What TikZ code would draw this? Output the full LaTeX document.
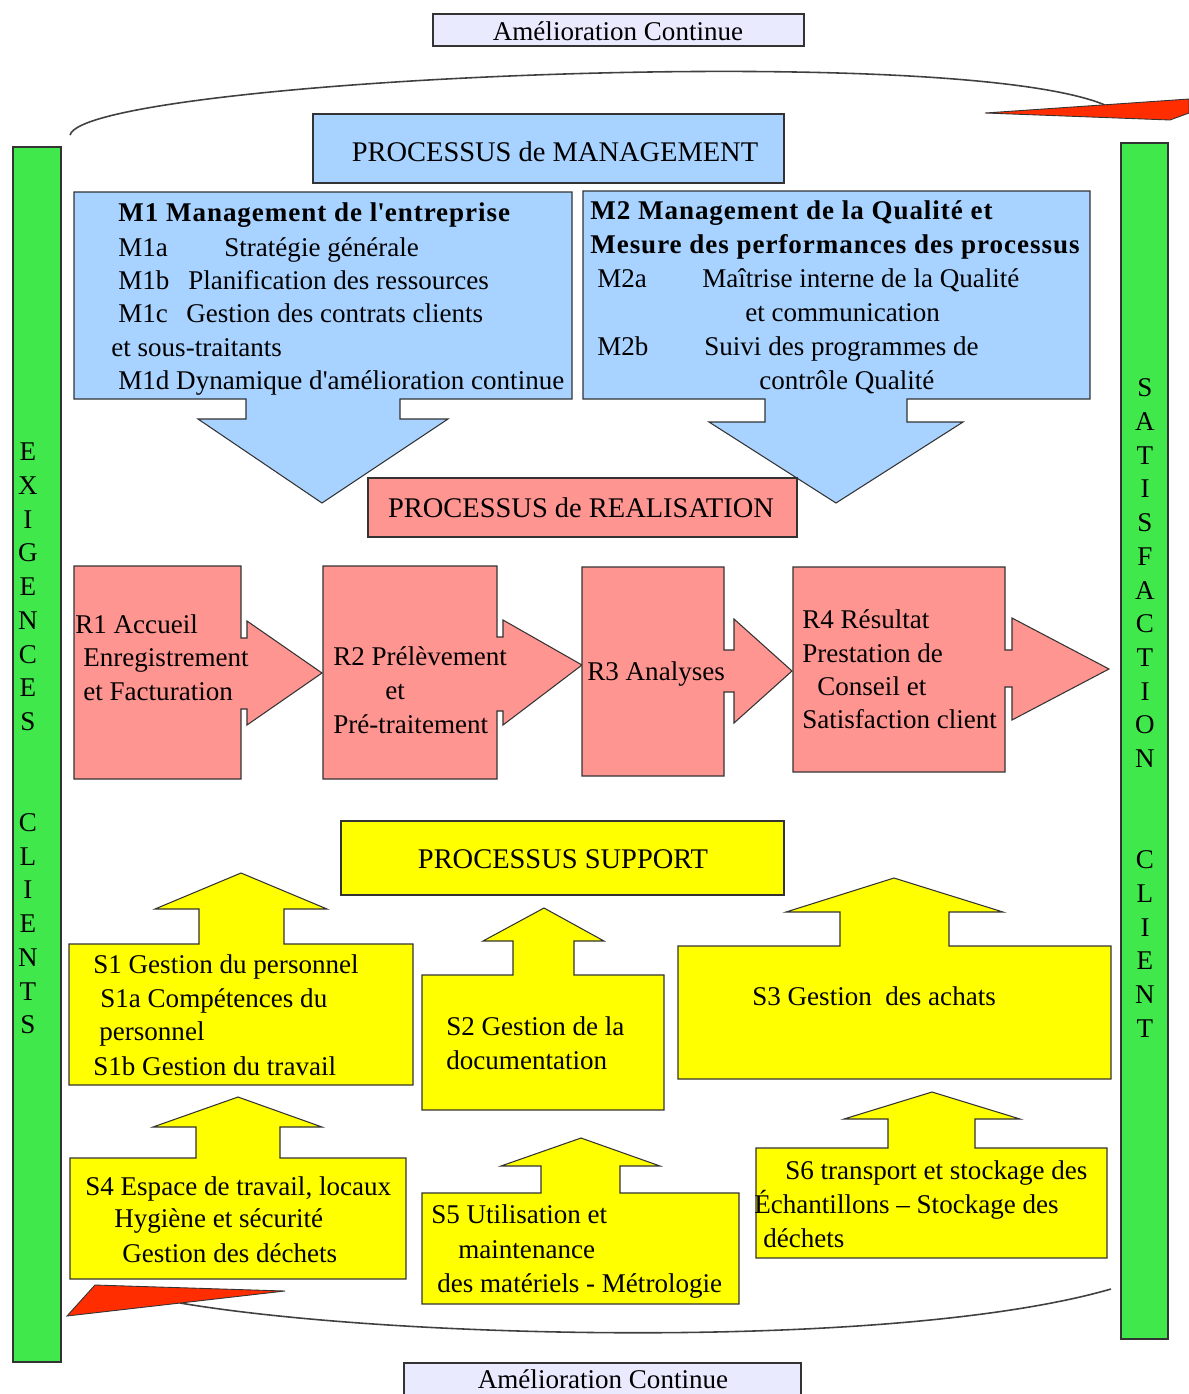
\documentclass[tikz,border=0pt]{standalone}
\usepackage{fontspec}
\setmainfont{Liberation Serif}
\newfontfamily\spacedserif[LetterSpace=3.5]{Liberation Serif}
\newcommand\txtfont{\fontsize{15.4}{18}\selectfont}
\newcommand\ttlfont{\fontsize{16.2}{19}\selectfont}
\newcommand\txtbold{\spacedserif\bfseries\fontsize{15.4}{18}\selectfont}
\definecolor{mgmtblue}{RGB}{168,210,255}
\definecolor{realred}{RGB}{255,149,145}
\definecolor{suppyellow}{RGB}{255,255,0}
\definecolor{bargreen}{RGB}{64,232,76}
\definecolor{amelfill}{RGB}{234,234,255}
\definecolor{arrowred}{RGB}{255,45,0}
\tikzset{
  edgebox/.style={draw=black!80, line width=0.6pt},
  mgmt/.style={edgebox, fill=mgmtblue},
  realis/.style={edgebox, fill=realred},
  supp/.style={edgebox, fill=suppyellow},
  greenbar/.style={edgebox, fill=bargreen},
  amel/.style={edgebox, fill=amelfill},
  redhead/.style={draw=black!80, line width=0.5pt, fill=arrowred},
  cyclearc/.style={draw=black!75, line width=0.9pt},
  lbl/.style={anchor=base west, inner sep=0pt, font=\txtfont},
  lblb/.style={lbl, font=\txtbold},
  ttl/.style={anchor=base, inner sep=0pt, font=\ttlfont},
  letter/.style={inner sep=0pt, font=\txtfont}
}
\begin{document}
\begin{tikzpicture}[x=0.02cm, y=-0.02cm]
\clip (0,0) rectangle (1189,1394);

\path[amel] (433,14) rectangle (804,46);
\node[lbl, anchor=base] (amel-top) at (618,40) {Amélioration Continue};
\path[amel] (404,1363) rectangle (801,1400);
\node[lbl, anchor=base] (amel-bot) at (603,1388) {Amélioration Continue};

\path[greenbar] (13,147) rectangle (61,1362);
\path[greenbar] (1121,143) rectangle (1168,1339);
\foreach \l [count=\i from 0] in {E,X,I,G,E,N,C,E,S}
  \node[letter] (exig-\i) at (28,{452+33.7*\i}) {\l};
\foreach \l [count=\i from 0] in {C,L,I,E,N,T,S}
  \node[letter] (cli-\i) at (28,{822.7+33.7*\i}) {\l};
\foreach \l [count=\i from 0] in {S,A,T,I,S,F,A,C,T,I,O,N}
  \node[letter] (satis-\i) at (1145,{388+33.7*\i}) {\l};
\foreach \l [count=\i from 0] in {C,L,I,E,N,T}
  \node[letter] (clt-\i) at (1145,{859.8+33.7*\i}) {\l};

\draw[cyclearc] (70,135) .. controls (85,80) and (950,40) .. (1105,105);
\filldraw[redhead] (985,113) -- (1189,99) -- (1189,113) -- (1170,120) -- cycle;
\draw[cyclearc] (1111,1289) .. controls (900,1350) and (400,1340) .. (180,1303);
\filldraw[redhead] (67,1316) -- (95,1285) -- (285,1291) -- cycle;

\path[mgmt] (313,114) rectangle (784,183);
\node[ttl] (proc-mgmt) at (555,161) {PROCESSUS de MANAGEMENT};

\path[mgmt] (74,192) -- (572,192) -- (572,399) -- (400,399) -- (400,419) -- (448,419) -- (322,503)
  -- (198,419) -- (246,419) -- (246,399) -- (74,399) -- cycle;
\path[mgmt] (583,191) -- (1090,191) -- (1090,399) -- (907,399) -- (907,422) -- (963,422) -- (836,503)
  -- (709,422) -- (765,422) -- (765,399) -- (583,399) -- cycle;
\node[lblb] (m1-t) at (118,221) {M1 Management de l\textquotesingle entreprise};
\node[lbl] (m1a-c) at (118,256) {M1a};
\node[lbl] (m1a-d) at (224,256) {Stratégie générale};
\node[lbl] (m1b-c) at (118,289) {M1b};
\node[lbl] (m1b-d) at (188,289) {Planification des ressources};
\node[lbl] (m1c-c) at (118,322) {M1c};
\node[lbl] (m1c-d) at (186,322) {Gestion des contrats clients};
\node[lbl] (m1c-e) at (111,356) {et sous-traitants};
\node[lbl] (m1d) at (118,389) {M1d Dynamique d\textquotesingle amélioration continue};
\node[lblb] (m2-t1) at (590,219) {M2 Management de la Qualité et};
\node[lblb] (m2-t2) at (590,253) {Mesure des performances des processus};
\node[lbl] (m2a-c) at (597,287) {M2a};
\node[lbl] (m2a-d) at (702,287) {Maîtrise interne de la Qualité};
\node[lbl] (m2a-e) at (745,321) {et communication};
\node[lbl] (m2b-c) at (597,355) {M2b};
\node[lbl] (m2b-d) at (704,355) {Suivi des programmes de};
\node[lbl] (m2b-e) at (759,389) {contrôle Qualité};

\path[realis] (368,478) rectangle (797,537);
\node[ttl] (proc-real) at (581,517) {PROCESSUS de REALISATION};

\path[realis] (74,566) -- (241,566) -- (241,638) -- (247,638) -- (247,621) -- (322,673) -- (247,725)
  -- (247,709) -- (241,709) -- (241,779) -- (74,779) -- cycle;
\path[realis] (323,566) -- (497,566) -- (497,637) -- (503,637) -- (503,620) -- (582,665) -- (503,725)
  -- (503,711) -- (497,711) -- (497,779) -- (323,779) -- cycle;
\path[realis] (582,567) -- (724,567) -- (724,650) -- (734,650) -- (734,619) -- (792,671) -- (734,723)
  -- (734,692) -- (724,692) -- (724,776) -- (582,776) -- cycle;
\path[realis] (793,567) -- (1005,567) -- (1005,650) -- (1012,650) -- (1012,618) -- (1109,669) -- (1012,720)
  -- (1012,687) -- (1005,687) -- (1005,772) -- (793,772) -- cycle;
\node[lbl] (r1-1) at (75,633) {R1 Accueil};
\node[lbl] (r1-2) at (83,666) {Enregistrement};
\node[lbl] (r1-3) at (83,700) {et Facturation};
\node[lbl] (r2-1) at (333,665) {R2 Prélèvement};
\node[lbl] (r2-2) at (385,699) {et};
\node[lbl] (r2-3) at (333,733) {Pré-traitement};
\node[lbl] (r3-1) at (587,680) {R3 Analyses};
\node[lbl] (r4-1) at (802,628) {R4 Résultat};
\node[lbl] (r4-2) at (802,662) {Prestation de};
\node[lbl] (r4-3) at (817,695) {Conseil et};
\node[lbl] (r4-4) at (802,728) {Satisfaction client};

\path[supp] (341,821) rectangle (784,895);
\node[ttl] (proc-supp) at (563,868) {PROCESSUS SUPPORT};

\path[supp] (69,944) -- (199,944) -- (199,909) -- (155,909) -- (241,873) -- (327,909) -- (284,909)
  -- (284,944) -- (413,944) -- (413,1085) -- (69,1085) -- cycle;
\path[supp] (422,975) -- (513,975) -- (513,941) -- (483,941) -- (544,908) -- (604,941) -- (574,941)
  -- (574,975) -- (664,975) -- (664,1110) -- (422,1110) -- cycle;
\path[supp] (678,946) -- (840,946) -- (840,912) -- (786,912) -- (894,878) -- (1003,912) -- (949,912)
  -- (949,946) -- (1111,946) -- (1111,1079) -- (678,1079) -- cycle;
\path[supp] (70,1158) -- (196,1158) -- (196,1127) -- (153,1127) -- (238,1097) -- (322,1127) -- (280,1127)
  -- (280,1158) -- (406,1158) -- (406,1279) -- (70,1279) -- cycle;
\path[supp] (422,1193) -- (541,1193) -- (541,1166) -- (501,1166) -- (581,1138) -- (660,1166) -- (620,1166)
  -- (620,1193) -- (739,1193) -- (739,1304) -- (422,1304) -- cycle;
\path[supp] (756,1148) -- (888,1148) -- (888,1119) -- (844,1119) -- (932,1092) -- (1020,1119) -- (975,1119)
  -- (975,1148) -- (1107,1148) -- (1107,1258) -- (756,1258) -- cycle;
\node[lbl] (s1-1) at (93,973) {S1 Gestion du personnel};
\node[lbl] (s1-2) at (100,1007) {S1a Compétences du};
\node[lbl] (s1-3) at (99,1040) {personnel};
\node[lbl] (s1-4) at (93,1075) {S1b Gestion du travail};
\node[lbl] (s2-1) at (446,1035) {S2 Gestion de la};
\node[lbl] (s2-2) at (446,1069) {documentation};
\node[lbl] (s3-1) at (752,1005) {S3 Gestion\ \ des achats};
\node[lbl] (s4-1) at (85,1195) {S4 Espace de travail, locaux};
\node[lbl] (s4-2) at (114,1227) {Hygiène et sécurité};
\node[lbl] (s4-3) at (122,1262) {Gestion des déchets};
\node[lbl] (s5-1) at (431,1223) {S5 Utilisation et};
\node[lbl] (s5-2) at (458,1258) {maintenance};
\node[lbl] (s5-3) at (437,1292) {des matériels - Métrologie};
\node[lbl] (s6-1) at (785,1179) {S6 transport et stockage des};
\node[lbl] (s6-2) at (754,1213) {Échantillons – Stockage des};
\node[lbl] (s6-3) at (763,1247) {déchets};
\end{tikzpicture}
\end{document}
